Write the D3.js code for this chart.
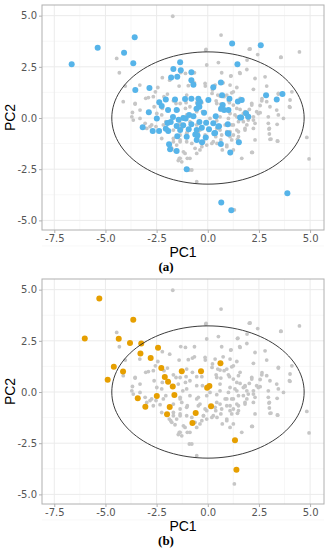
<!DOCTYPE html>
<html><head><meta charset="utf-8">
<script src="https://cdn.jsdelivr.net/npm/d3@7"></script>
<style>body{margin:0;background:#fff}svg{display:block}</style>
</head><body>
<svg id="c" width="331" height="550"></svg>
<script>
const xTicks = [-7.5, -5.0, -2.5, 0.0, 2.5, 5.0];
const yTicks = [-5.0, -2.5, 0.0, 2.5, 5.0];
const minorTicks = [-6.25, -3.75, -1.25, 1.25, 3.75];
const ellipseCenter = [0.01, 0.0];
const ellipseRadii = [4.7, 3.23];

const greyPoints = [
[-1.71,4.97],[0.65,4.05],[-4.45,2.91],[-4.32,2.21],[-4.03,1.56],[-0.10,3.32],[2.07,3.37],[2.44,3.10],[3.57,2.96],[4.48,3.23],
[-0.05,2.59],[0.52,2.71],[1.45,2.61],[1.91,2.37],[2.31,1.93],[1.12,2.05],[0.68,2.21],[-1.32,2.22],[-1.09,2.18],[-0.65,2.21],
[-2.22,1.97],[-1.86,1.85],[-0.75,1.66],[-0.65,1.72],[-1.40,1.56],[-0.12,1.56],[0.21,1.20],[0.49,1.12],[0.80,1.04],[0.93,1.12],
[1.25,1.28],[1.42,1.49],[2.88,1.56],[3.45,1.20],[4.02,0.88],[3.99,0.55],[2.65,0.94],[2.15,0.71],[2.56,0.61],[2.88,0.80],
[2.03,0.42],[1.82,0.31],[1.58,0.42],[1.25,0.63],[1.06,0.75],[0.64,0.68],[0.41,0.84],[-0.29,0.75],[-0.54,0.75],[-0.75,0.96],
[-1.03,1.12],[-1.06,0.75],[-1.35,0.71],[-1.68,0.84],[-2.14,1.04],[-2.56,1.28],[-2.66,1.04],[-3.03,0.96],[-3.55,0.68],[-3.68,0.27],
[-3.31,0.39],[-2.62,0.55],[-2.22,0.47],[-2.49,0.22],[-1.44,0.39],[-1.09,0.47],[-0.87,0.55],[-1.22,0.06],[-0.54,0.31],[-0.26,0.31],
[0.60,0.39],[1.09,0.22],[1.42,0.06],[1.91,0.06],[2.39,0.31],[2.23,-0.10],[1.74,-0.18],[1.25,-0.34],[0.93,-0.34],[0.44,-0.13],
[-0.05,-0.18],[-0.54,-0.34],[-0.87,-0.18],[-1.35,-0.26],[-2.05,-0.18],[-2.74,-0.34],[-3.06,-0.26],[-3.31,-0.02],[3.45,0.15],[3.04,0.55],
[2.96,0.06],[1.58,0.96],[1.09,1.61],[0.36,1.61],[1.58,2.18],[2.80,2.01],
[-2.98,-0.51],[-2.66,-0.67],[-2.33,-0.62],[-1.68,-0.59],[-1.27,-0.51],[-1.03,-0.75],[-0.38,-0.59],[-0.05,-0.91],[0.36,-0.75],[0.60,-0.59],
[0.93,-0.67],[1.25,-0.83],[1.42,-0.59],[1.82,-0.59],[2.23,-0.51],[3.01,-0.51],[3.01,-0.78],[3.04,-1.04],[3.40,-1.12],[2.31,-1.07],
[1.45,-1.04],[1.09,-0.91],[0.64,-1.07],[0.27,-1.16],[-0.21,-1.16],[-1.03,-1.16],[-1.35,-1.07],[-1.68,-1.16],[-2.25,-1.00],[-1.81,-1.40],
[-1.60,-1.60],[-1.35,-1.97],[-1.44,-2.08],[-0.87,-1.97],[-1.11,-1.73],[-0.38,-1.56],[-0.05,-1.32],[0.93,-1.40],[1.09,-1.73],[1.25,-1.56],
[1.66,-1.97],[2.15,-1.68],[-0.90,-2.54],[-0.78,-2.54],[-0.54,-3.11],[1.30,-4.49],[4.95,-2.00],
[-0.08,3.35],[2.03,3.36],[3.58,2.97],[1.47,2.63],[1.92,2.83],[1.14,2.06],[1.56,2.21],[0.75,1.72],[-0.13,1.69],[0.23,1.37],
[0.60,1.07],[1.17,1.23],[2.23,1.40],[3.45,1.17],[4.11,1.28],[4.02,0.52],[3.37,0.39],[2.64,0.84],[2.15,0.63],[1.50,0.80],
[1.01,0.84],[1.42,0.47],[1.82,0.26],[2.56,0.26],[0.44,0.71],
[2.96,-0.26],[2.99,-0.54],[3.39,-0.31],[3.70,-0.02],[3.09,-1.03],[3.42,-1.13],[4.84,-0.95],[2.18,-1.68],[1.82,-0.51],[1.50,-0.91],
[1.17,-1.07],[0.71,-1.56],[0.93,-1.32],[0.45,-1.24],[0.20,-1.24],[-0.29,-1.40],[-0.54,-1.73],[0.44,-0.51],[0.85,-0.34],[1.17,-0.34],
[1.50,-0.18],[1.98,-0.10],[2.23,0.06],[2.47,0.22],[2.31,-0.26],[1.91,-0.34],[1.50,-0.67],[1.09,-0.67],[0.68,-0.83],[0.39,-0.91],
[-0.13,-0.83],[-0.21,-1.16],[1.01,-0.02],[1.33,0.15],[1.74,0.22],[0.60,0.06],[0.11,-0.02],[-0.46,-0.26],
[-3.71,0.06],[-3.64,-0.10],[-2.82,-0.42],[-2.53,-0.42],[-2.25,0.15],[-2.17,-0.34],[-1.35,-0.34],[-1.03,0.15],[-1.00,-0.67],[-1.35,-0.83],
[-1.68,-1.00],[-1.35,-1.16],[-1.88,-1.32],[-1.76,-1.48],[-1.52,-1.32],[-1.39,-1.97],[-1.27,-2.14],[-1.00,-1.97],[-1.19,-1.65],[-0.78,-1.24],
[-0.62,-1.48],[-0.46,-0.67],[-4.13,0.80],[-3.55,0.71],[-3.32,1.61],[-2.90,1.00],[-2.44,1.49],[-1.97,1.17],[-1.55,0.71],[-0.95,1.58]
];

const bluePoints = [
[-6.65,2.63],[-5.38,3.43],[-4.09,3.19],[-3.57,3.95],[-3.64,2.67],[-3.54,1.37],[-2.85,1.46],
[1.19,3.64],[2.59,3.55],[1.45,2.63],
[-1.35,2.72],[-1.68,2.40],[-1.32,2.33],[-0.80,2.24],[-1.79,1.98],[-1.49,2.01],[-0.80,1.85],[-0.70,1.62],[0.27,1.50],[0.64,1.74],
[2.85,1.11],[3.65,1.17],[3.37,0.91],
[0.70,1.11],[1.06,0.94],[1.47,0.81],[1.66,0.88],[0.03,0.88],[-0.46,0.94],[-0.80,0.94],[-1.11,0.93],[-1.60,0.91],[-2.05,0.91],
[-2.37,0.77],[-2.25,0.59],[-2.88,0.28],[-1.94,0.39],[-1.52,0.39],[-0.38,0.80],[-0.41,0.55],[0.73,0.63],[0.80,0.39],[1.01,0.39],
[1.87,0.23],[1.98,0.06],[1.58,0.03],[0.39,0.08],[-0.18,0.26],[-0.91,0.15],[-0.70,0.08],[-1.70,0.05],[-1.08,-0.02],[-2.49,-0.02],
[-3.18,-0.45],[-2.69,-0.63],[-2.38,-0.63],[-2.05,-0.52],[-1.52,-0.39],[-1.35,-0.59],[-0.93,-0.55],[-0.54,-0.59],[-0.29,-0.47],
[0.06,-0.55],[0.52,-0.42],[0.98,-0.31],[-0.08,-0.23],[0.27,-0.26],[-0.41,-0.20],[-1.81,-0.20],
[-1.93,-0.63],[0.32,-0.75],[0.98,-0.75],[-1.89,-1.28],[-1.84,-1.53],[-1.52,-1.61],[-1.03,-0.91],[-0.54,-1.07],[-0.28,-1.18],
[0.64,-1.27],[1.52,-1.18],[1.10,-1.69],[-1.03,-2.50],[3.89,-3.67],[0.66,-4.13],[1.15,-4.50],
[-1.97,-0.24],[-1.42,-0.08],[-1.19,0.00],[-1.49,-0.89],[-0.61,-0.80],[0.55,-0.40],[1.63,0.02],[0.36,-0.73],[1.01,-0.77],
[-0.45,0.70],[-0.55,0.45],[0.65,0.45],[-1.20,-0.35],[-0.80,-0.30],[-0.50,-0.85],[-0.10,-0.95]
];

const orangePoints = [
[-5.30,4.57],[-6.01,2.61],[-3.64,3.53],[-4.35,2.60],[-3.80,2.40],[-3.25,2.37],[-3.29,1.88],[-2.43,2.16],[-2.79,1.66],[-4.59,1.23],
[-4.14,1.00],[-4.89,0.60],[-2.27,1.17],[-1.27,1.02],[-0.33,1.02],[0.62,1.41],[-2.10,0.73],[-1.94,0.50],[-1.71,0.27],[0.08,0.29],
[-0.03,0.21],[-1.63,-0.15],[-2.49,-0.20],[-3.42,-0.31],[-3.05,-0.72],[-1.86,-0.73],[0.16,-0.70],[-1.99,-1.09],[-0.59,-1.02],[-0.75,-1.51],
[1.33,-2.36],[1.40,-3.80]
];

const panels = [
  {top: 5, bottom: 230, highlight: bluePoints, color: "#56B4E9", caption: "(a)"},
  {top: 279, bottom: 504, highlight: orangePoints, color: "#E69F00", caption: "(b)"}
];

const svg = d3.select("#c");
const left = 42, right = 324;
const x = d3.scaleLinear().domain([-8.1, 5.68]).range([left, right]);

panels.forEach(p => {
  const y = d3.scaleLinear().domain([-5.47, 5.52]).range([p.bottom, p.top]);
  const g = svg.append("g");
  g.selectAll(".mx").data(minorTicks).join("line")
    .attr("x1", d => x(d)).attr("x2", d => x(d)).attr("y1", p.top).attr("y2", p.bottom)
    .attr("stroke", "#f2f2f2").attr("stroke-width", 0.6);
  g.selectAll(".my").data(minorTicks).join("line")
    .attr("y1", d => y(d)).attr("y2", d => y(d)).attr("x1", left).attr("x2", right)
    .attr("stroke", "#f2f2f2").attr("stroke-width", 0.6);
  g.selectAll(".gx").data(xTicks).join("line")
    .attr("x1", d => x(d)).attr("x2", d => x(d)).attr("y1", p.top).attr("y2", p.bottom)
    .attr("stroke", "#ebebeb").attr("stroke-width", 1);
  g.selectAll(".gy").data(yTicks).join("line")
    .attr("y1", d => y(d)).attr("y2", d => y(d)).attr("x1", left).attr("x2", right)
    .attr("stroke", "#ebebeb").attr("stroke-width", 1);

  g.append("g").selectAll("circle").data(greyPoints).join("circle")
    .attr("cx", d => x(d[0])).attr("cy", d => y(d[1])).attr("r", 1.9).attr("fill", "#c6c6c6");
  g.append("g").selectAll("circle").data(p.highlight).join("circle")
    .attr("cx", d => x(d[0])).attr("cy", d => y(d[1])).attr("r", 3).attr("fill", p.color);

  const angles = d3.range(0, 360, 3).map(a => a * Math.PI / 180);
  const line = d3.line()
    .x(a => x(ellipseCenter[0] + ellipseRadii[0] * Math.cos(a)))
    .y(a => y(ellipseCenter[1] + ellipseRadii[1] * Math.sin(a)))
    .curve(d3.curveCardinalClosed);
  g.append("path").datum(angles).attr("d", line)
    .attr("fill", "none").attr("stroke", "#262626").attr("stroke-width", 0.9);

  g.append("rect").attr("x", left).attr("y", p.top).attr("width", right - left).attr("height", p.bottom - p.top)
    .attr("fill", "none").attr("stroke", "#b0b0b0").attr("stroke-width", 1);

  const fmt = d => d3.format(".1f")(d).replace("−", "-");
  const ax = g.append("g").attr("transform", `translate(0,${p.bottom})`)
    .call(d3.axisBottom(x).tickValues(xTicks).tickFormat(fmt).tickSize(3).tickPadding(2));
  const ay = g.append("g").attr("transform", `translate(${left},0)`)
    .call(d3.axisLeft(y).tickValues(yTicks).tickFormat(fmt).tickSize(3).tickPadding(2));
  [ax, ay].forEach(a => {
    a.select(".domain").remove();
    a.selectAll(".tick line").attr("stroke", "#b0b0b0");
    a.selectAll(".tick text").attr("fill", "#555").attr("font-family", "DejaVu Sans").attr("font-size", 10);
  });

  g.append("text").attr("x", (left + right) / 2).attr("y", p.bottom + 27)
    .attr("text-anchor", "middle").attr("font-family", "Liberation Sans").attr("font-size", 14)
    .attr("fill", "#000").text("PC1");
  g.append("text").attr("transform", `translate(15,${(p.top + p.bottom) / 2}) rotate(-90)`)
    .attr("text-anchor", "middle").attr("font-family", "Liberation Sans").attr("font-size", 14)
    .attr("fill", "#000").text("PC2");
  g.append("text").attr("x", 166).attr("y", p.bottom + 41)
    .attr("text-anchor", "middle").attr("font-family", "Liberation Serif").attr("font-weight", "bold")
    .attr("font-size", 13).attr("fill", "#000").text(p.caption);
});
</script>
</body></html>
